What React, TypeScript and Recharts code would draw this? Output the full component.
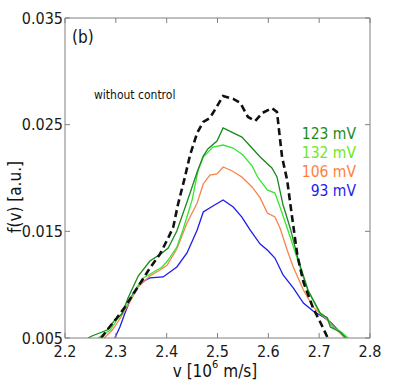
import { Line, LineChart, XAxis, YAxis } from "recharts";

const vTicks = [2.2, 2.3, 2.4, 2.5, 2.6, 2.7, 2.8];
const fTicks = [0.005, 0.015, 0.025, 0.035];

// without control (black dashed)
const vNoCtrl = [2.271, 2.283, 2.302, 2.318, 2.342, 2.367, 2.387, 2.403, 2.413, 2.422, 2.436, 2.446, 2.46, 2.472, 2.485, 2.497, 2.511, 2.531, 2.545, 2.56, 2.574, 2.588, 2.607, 2.617, 2.627, 2.637, 2.643, 2.657, 2.669, 2.688, 2.702, 2.716];
const fNoCtrl = [0.005, 0.00575, 0.00688, 0.00791, 0.00969, 0.01156, 0.01288, 0.01438, 0.01541, 0.01747, 0.0201, 0.02216, 0.02422, 0.02525, 0.02563, 0.02656, 0.02769, 0.02741, 0.02703, 0.02572, 0.02534, 0.02609, 0.02656, 0.02619, 0.02197, 0.01981, 0.01766, 0.01278, 0.01025, 0.00781, 0.0065, 0.00509];

// 123 mV
const v123 = [2.245, 2.253, 2.283, 2.298, 2.312, 2.324, 2.344, 2.367, 2.391, 2.403, 2.42, 2.44, 2.46, 2.472, 2.481, 2.499, 2.511, 2.548, 2.566, 2.584, 2.607, 2.617, 2.629, 2.643, 2.659, 2.678, 2.702, 2.716, 2.722, 2.741, 2.753];
const f123 = [0.005, 0.00519, 0.00575, 0.00669, 0.00725, 0.00875, 0.01081, 0.01222, 0.01297, 0.01344, 0.01503, 0.01775, 0.02056, 0.02206, 0.02272, 0.02347, 0.02469, 0.02384, 0.02291, 0.02197, 0.02094, 0.0201, 0.01747, 0.01531, 0.01231, 0.0095, 0.00734, 0.00688, 0.00603, 0.00556, 0.005];

// 132 mV
const v132 = [2.265, 2.289, 2.302, 2.314, 2.328, 2.342, 2.354, 2.371, 2.391, 2.403, 2.42, 2.432, 2.45, 2.462, 2.472, 2.491, 2.511, 2.531, 2.55, 2.568, 2.58, 2.598, 2.613, 2.623, 2.643, 2.659, 2.678, 2.702, 2.716, 2.726, 2.741, 2.757];
const f132 = [0.005, 0.00575, 0.00669, 0.00744, 0.00856, 0.00978, 0.01063, 0.01109, 0.01166, 0.01231, 0.01353, 0.01513, 0.01794, 0.02075, 0.02197, 0.0229, 0.02309, 0.02281, 0.02216, 0.02113, 0.02, 0.01888, 0.01859, 0.01728, 0.01447, 0.01213, 0.00941, 0.00725, 0.00688, 0.00603, 0.00566, 0.005];

// 106 mV
const v106 = [2.277, 2.293, 2.304, 2.322, 2.344, 2.367, 2.387, 2.401, 2.42, 2.44, 2.46, 2.472, 2.485, 2.499, 2.511, 2.529, 2.548, 2.568, 2.584, 2.598, 2.613, 2.623, 2.637, 2.649, 2.669, 2.688, 2.716, 2.735, 2.751];
const f106 = [0.005, 0.00575, 0.0065, 0.00791, 0.00978, 0.01081, 0.01138, 0.01184, 0.01334, 0.01578, 0.01766, 0.01944, 0.02028, 0.02038, 0.02103, 0.02066, 0.02009, 0.01916, 0.01813, 0.01672, 0.01634, 0.01531, 0.01325, 0.01166, 0.0095, 0.00791, 0.00669, 0.00575, 0.005];

// 93 mV
const v93 = [2.298, 2.308, 2.318, 2.334, 2.348, 2.367, 2.393, 2.42, 2.44, 2.46, 2.472, 2.491, 2.511, 2.531, 2.548, 2.564, 2.584, 2.598, 2.613, 2.629, 2.649, 2.669, 2.688, 2.708, 2.722, 2.735, 2.751];
const f93 = [0.005, 0.00603, 0.00734, 0.00922, 0.01016, 0.01063, 0.01072, 0.01166, 0.01297, 0.01513, 0.01681, 0.01738, 0.01794, 0.01728, 0.01634, 0.01513, 0.01381, 0.01325, 0.0125, 0.01091, 0.00969, 0.00828, 0.00753, 0.00697, 0.0065, 0.00584, 0.005];

const toRows = (v: number[], f: number[]) => v.map((x, i) => ({ v: x, f: f[i] }));

const series = [
  { name: "93 mV", rows: toRows(v93, f93), color: "#1c1cf0" },
  { name: "106 mV", rows: toRows(v106, f106), color: "#f7844c" },
  { name: "132 mV", rows: toRows(v132, f132), color: "#35e635" },
  { name: "123 mV", rows: toRows(v123, f123), color: "#1a8a1a" },
];

const legend = [
  { label: "123 mV", color: "#1a8a1a" },
  { label: "132 mV", color: "#6fe81c" },
  { label: "106 mV", color: "#ff7f3c" },
  { label: "93 mV", color: "#1c1cf0" },
];

const FONT = "'DejaVu Sans Condensed', 'DejaVu Sans', sans-serif";
const AXIS = "#808080";
const TICK_LEN = 5;

const BottomTick = ({ x, y, payload }: any) => (
  <g>
    <line x1={x} y1={y} x2={x} y2={y - TICK_LEN} stroke={AXIS} />
    <text x={x} y={y + 13} textAnchor="middle" dominantBaseline="central" fontSize={16} fontFamily={FONT} fill="#1a1a1a">
      {payload.value}
    </text>
  </g>
);

const LeftTick = ({ x, y, payload }: any) => (
  <g>
    <line x1={x} y1={y} x2={x + TICK_LEN} y2={y} stroke={AXIS} />
    <text x={x - 2} y={y} textAnchor="end" dominantBaseline="central" fontSize={16} fontFamily={FONT} fill="#1a1a1a">
      {payload.value}
    </text>
  </g>
);

const TopTick = ({ x, y }: any) => <line x1={x} y1={y} x2={x} y2={y + TICK_LEN} stroke={AXIS} />;
const RightTick = ({ x, y }: any) => <line x1={x} y1={y} x2={x - TICK_LEN} y2={y} stroke={AXIS} />;

export default function App() {
  return (
    <div style={{ position: "absolute", left: 0, top: 0, width: 409, height: 392, background: "#fff" }}>
      <LineChart width={409} height={392} margin={{ top: 18, right: 39, left: 5, bottom: 24 }}>
        <XAxis
          dataKey="v"
          type="number"
          domain={[2.2, 2.8]}
          ticks={vTicks}
          allowDataOverflow
          height={30}
          stroke={AXIS}
          tickLine={false}
          tickSize={0}
          tickMargin={0}
          tick={<BottomTick />}
        />
        <XAxis
          xAxisId="top"
          orientation="top"
          mirror
          dataKey="v"
          type="number"
          domain={[2.2, 2.8]}
          ticks={vTicks}
          allowDataOverflow
          stroke={AXIS}
          tickLine={false}
          tickSize={0}
          tickMargin={0}
          tick={<TopTick />}
        />
        <YAxis
          type="number"
          domain={[0.005, 0.035]}
          ticks={fTicks}
          allowDataOverflow
          width={60}
          stroke={AXIS}
          tickLine={false}
          tickSize={0}
          tickMargin={0}
          tick={<LeftTick />}
        />
        <YAxis
          yAxisId="right"
          orientation="right"
          mirror
          type="number"
          domain={[0.005, 0.035]}
          ticks={fTicks}
          allowDataOverflow
          stroke={AXIS}
          tickLine={false}
          tickSize={0}
          tickMargin={0}
          tick={<RightTick />}
        />
        {series.map((s) => (
          <Line
            key={s.name}
            data={s.rows}
            dataKey="f"
            type="linear"
            stroke={s.color}
            strokeWidth={1.3}
            dot={false}
            isAnimationActive={false}
          />
        ))}
        <Line
          data={toRows(vNoCtrl, fNoCtrl)}
          dataKey="f"
          type="linear"
          stroke="#111"
          strokeWidth={2.6}
          strokeDasharray="7 4"
          dot={false}
          isAnimationActive={false}
        />
      </LineChart>
      <svg width={409} height={392} style={{ position: "absolute", left: 0, top: 0, pointerEvents: "none" }}>
        <text x={72} y={37} fontSize={17} fontFamily={FONT} dominantBaseline="central" fill="#111">
          (b)
        </text>
        <text x={94} y={95} fontSize={12} fontFamily={FONT} dominantBaseline="central" fill="#111">
          without control
        </text>
        {legend.map((l, i) => (
          <text
            key={l.label}
            x={356}
            y={134 + i * 19}
            textAnchor="end"
            dominantBaseline="central"
            fontSize={15.5}
            fontFamily={FONT}
            fill={l.color}
          >
            {l.label}
          </text>
        ))}
        <text x={215} y={371} textAnchor="middle" dominantBaseline="central" fontSize={17} fontFamily={FONT} fill="#111">
          v [10
          <tspan dy={-7} fontSize={11}>
            6
          </tspan>
          <tspan dy={7}> m/s]</tspan>
        </text>
        <text
          x={15}
          y={197}
          transform="rotate(-90 15 197)"
          textAnchor="middle"
          dominantBaseline="central"
          fontSize={17}
          fontFamily={FONT}
          fill="#111"
        >
          f(v) [a.u.]
        </text>
      </svg>
    </div>
  );
}
